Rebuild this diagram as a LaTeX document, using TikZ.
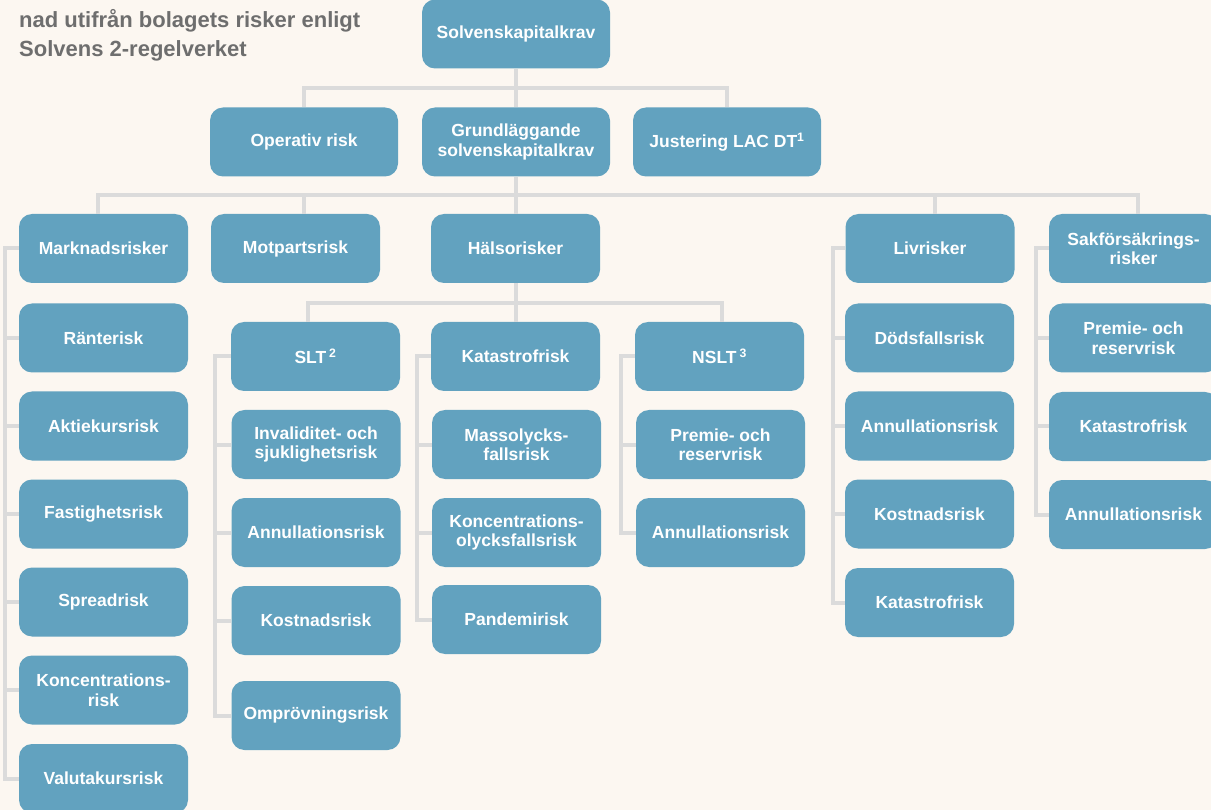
\documentclass[tikz,border=0pt]{standalone}
\usepackage{fontspec}
\setmainfont{Liberation Sans}
\usetikzlibrary{calc}

\definecolor{bgcream}{HTML}{FCF7F1}
\definecolor{boxblue}{HTML}{62A2BF}
\definecolor{linegray}{HTML}{DBDBDB}
\definecolor{titlegray}{HTML}{6E6E6E}

\tikzset{
  riskbox/.style={draw=none, fill=boxblue, rounded corners=13pt, text=white,
    align=center, minimum width=169pt, minimum height=69pt, inner sep=2pt,
    font=\bfseries\fontsize{17.5}{19.5}\selectfont},
  widebox/.style={riskbox, minimum width=188pt},
  conn/.style={draw=linegray, line width=4pt, line join=miter},
  headline/.style={anchor=base west, inner sep=0pt, text=titlegray,
    font=\bfseries\fontsize{22}{30}\selectfont}
}

\begin{document}
\begin{tikzpicture}[x=1pt, y=-1pt]
\useasboundingbox (0,0) rectangle (1211,810);
\fill[bgcream] (0,0) rectangle (1211,810);

% heading
\node[headline] (head2) at (19,27.5) {nad utifrån bolagets risker enligt};
\node[headline] (head3) at (19,57) {Solvens 2-regelverket};

% top levels
\node[widebox] (skk)  at (516,34)  {Solvenskapitalkrav};
\node[widebox] (op)   at (304,142) {Operativ risk};
\node[widebox] (gsk)  at (516,142) {Grundläggande\\solvenskapitalkrav};
\node[widebox] (just) at (727,142) {Justering LAC DT\textsuperscript{1}};

% risk modules
\node[riskbox] (mark) at (103.5,248.5)  {Marknadsrisker};
\node[riskbox] (mot)  at (295.5,248.5)  {Motpartsrisk};
\node[riskbox] (hal)  at (515.5,248.5)  {Hälsorisker};
\node[riskbox] (liv)  at (930,248.5)    {Livrisker};
\node[riskbox] (sak)  at (1133.5,248.5) {Sakförsäkrings-\\risker};

% market risk
\node[riskbox] (m1) at (103.5,338) {Ränterisk};
\node[riskbox] (m2) at (103.5,426) {Aktiekursrisk};
\node[riskbox] (m3) at (103.5,514) {Fastighetsrisk};
\node[riskbox] (m4) at (103.5,602) {Spreadrisk};
\node[riskbox] (m5) at (103.5,690) {Koncentrations-\\risk};
\node[riskbox] (m6) at (103.5,778.5) {Valutakursrisk};

% health risk
\node[riskbox] (slt)  at (315.5,356.5) {SLT\,\textsuperscript{2}};
\node[riskbox] (hkat) at (515.5,356.5) {Katastrofrisk};
\node[riskbox] (nslt) at (719.5,356.5) {NSLT\,\textsuperscript{3}};

\node[riskbox] (s1) at (316,444.5) {Invaliditet- och\\sjuklighetsrisk};
\node[riskbox] (s2) at (316,532.5) {Annullationsrisk};
\node[riskbox] (s3) at (316,620.5) {Kostnadsrisk};
\node[riskbox] (s4) at (316,715.5) {Omprövningsrisk};

\node[riskbox] (k1) at (516.5,444.5) {Massolycks-\\fallsrisk};
\node[riskbox] (k2) at (516.5,532.5) {Koncentrations-\\olycksfallsrisk};
\node[riskbox] (k3) at (516.5,619.5) {Pandemirisk};

\node[riskbox] (n1) at (720.5,444.5) {Premie- och\\reservrisk};
\node[riskbox] (n2) at (720.5,532.5) {Annullationsrisk};

% life risk
\node[riskbox] (l1) at (929.5,338) {Dödsfallsrisk};
\node[riskbox] (l2) at (929.5,426) {Annullationsrisk};
\node[riskbox] (l3) at (929.5,514) {Kostnadsrisk};
\node[riskbox] (l4) at (929.5,602.5) {Katastrofrisk};

% non-life risk
\node[riskbox] (n1s) at (1133.5,338) {Premie- och\\reservrisk};
\node[riskbox] (n2s) at (1133.5,426.5) {Katastrofrisk};
\node[riskbox] (n3s) at (1133.5,514.5) {Annullationsrisk};

% bus lines and rails
\coordinate (bus1) at (516,88);
\coordinate (bus2) at (516,195);
\coordinate (bus3) at (516,303);
\coordinate (railM) at (5,0);
\coordinate (railS) at (215,0);
\coordinate (railK) at (417,0);
\coordinate (railN) at (621,0);
\coordinate (railL) at (832.5,0);
\coordinate (railP) at (1035.5,0);

% first level
\draw[conn] (skk.south) -- (gsk.north);
\draw[conn] (op.north) -- (op.north |- bus1) -- (just.north |- bus1) -- (just.north);

% second level
\draw[conn] (gsk.south) -- ([xshift=0.5pt]hal.north);
\draw[conn] ([xshift=-6pt]mark.north) -- ([xshift=-6pt]mark.north |- bus2)
  -- ([xshift=4.5pt]sak.north |- bus2) -- ([xshift=4.5pt]sak.north);
\draw[conn] ([xshift=8.5pt]mot.north) -- ([xshift=8.5pt]mot.north |- bus2);
\draw[conn] ([xshift=5pt]liv.north) -- ([xshift=5pt]liv.north |- bus2);

% health sub-modules
\draw[conn] ([xshift=0.5pt]hal.south) -- ([xshift=0.5pt]hkat.north);
\draw[conn] ([xshift=-7.5pt]slt.north) -- ([xshift=-7.5pt]slt.north |- bus3)
  -- ([xshift=2.5pt]nslt.north |- bus3) -- ([xshift=2.5pt]nslt.north);

% side rails: market
\draw[conn] (mark.west) -- (railM |- mark.west) -- (railM |- m6.west) -- (m6.west);
\foreach \c in {m1,m2,m3,m4,m5} \draw[conn] (\c.west) -- (railM |- \c.west);

% side rails: SLT
\draw[conn] (slt.west) -- (railS |- slt.west) -- (railS |- s4.west) -- (s4.west);
\foreach \c in {s1,s2,s3} \draw[conn] (\c.west) -- (railS |- \c.west);

% side rails: health catastrophe
\draw[conn] (hkat.west) -- (railK |- hkat.west) -- (railK |- k3.west) -- (k3.west);
\foreach \c in {k1,k2} \draw[conn] (\c.west) -- (railK |- \c.west);

% side rails: NSLT
\draw[conn] (nslt.west) -- (railN |- nslt.west) -- (railN |- n2.west) -- (n2.west);
\draw[conn] (n1.west) -- (railN |- n1.west);

% side rails: life
\draw[conn] (liv.west) -- (railL |- liv.west) -- (railL |- l4.west) -- (l4.west);
\foreach \c in {l1,l2,l3} \draw[conn] (\c.west) -- (railL |- \c.west);

% side rails: non-life
\draw[conn] (sak.west) -- (railP |- sak.west) -- (railP |- n3s.west) -- (n3s.west);
\foreach \c in {n1s,n2s} \draw[conn] (\c.west) -- (railP |- \c.west);
\end{tikzpicture}
\end{document}
